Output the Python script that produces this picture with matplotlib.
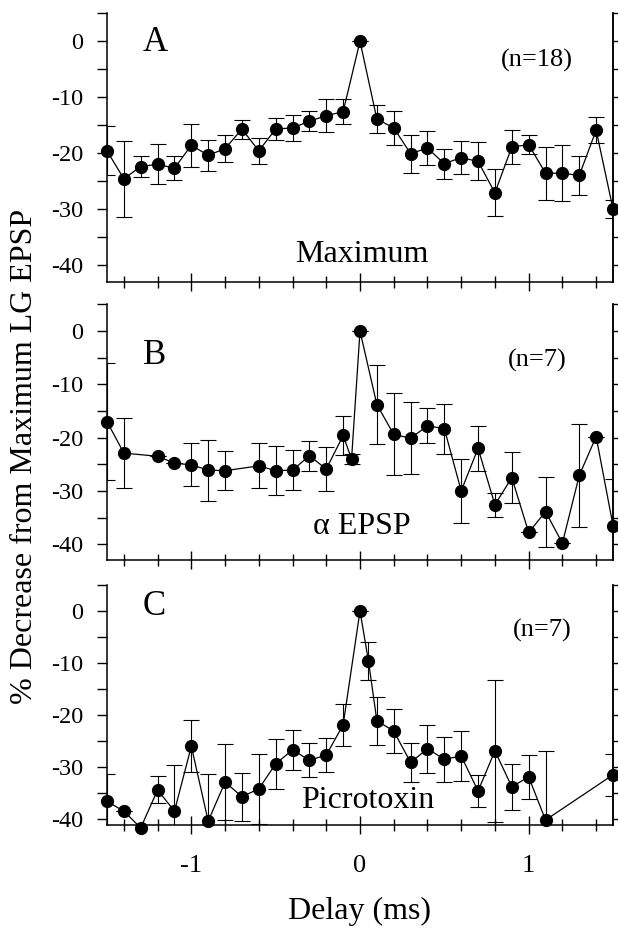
""" Decrease of the LG EPSP against delay, three conditions stacked. """

import matplotlib
matplotlib.use("Agg")
import matplotlib.pyplot as plt
from matplotlib.ticker import MultipleLocator

plt.rcParams["font.family"] = ["Liberation Serif", "DejaVu Serif"]
plt.rcParams["axes.unicode_minus"] = False

# Panel A - Maximum (n=18)
delay_a = [-1.5, -1.4, -1.3, -1.2, -1.1, -1.0, -0.9, -0.8, -0.7, -0.6, -0.5,
           -0.4, -0.3, -0.2, -0.1, 0.0, 0.1, 0.2, 0.3, 0.4, 0.5, 0.6, 0.7,
           0.8, 0.9, 1.0, 1.1, 1.2, 1.3, 1.4, 1.5]
decrease_a = [-19.6, -24.6, -22.4, -22.0, -22.7, -18.6, -20.4, -19.2, -15.7,
              -19.6, -15.7, -15.5, -14.3, -13.3, -12.6, 0.0, -13.9, -15.5,
              -20.1, -19.1, -21.9, -20.8, -21.5, -27.1, -18.9, -18.5, -23.6,
              -23.6, -24.0, -15.9, -30.0]
error_a = [4.4, 6.8, 1.9, 3.6, 2.2, 3.8, 2.8, 2.4, 1.7, 2.3, 1.9, 2.3, 1.8,
           2.9, 2.2, 0.0, 2.5, 3.0, 3.4, 3.0, 2.7, 2.9, 3.4, 4.2, 3.1, 1.7,
           4.7, 5.0, 3.5, 2.3, 1.6]

# Panel B - alpha EPSP (n=7)
delay_b = [-1.5, -1.4, -1.2, -1.1, -1.0, -0.9, -0.8, -0.6, -0.5, -0.4, -0.3,
           -0.2, -0.1, -0.05, 0.0, 0.1, 0.2, 0.3, 0.4, 0.5, 0.6, 0.7, 0.8,
           0.9, 1.0, 1.1, 1.2, 1.3, 1.4, 1.5]
decrease_b = [-17.0, -22.9, -23.5, -24.8, -25.1, -26.1, -26.2, -25.3, -26.2,
              -26.1, -23.4, -25.9, -19.6, -24.0, 0.0, -13.8, -19.4, -20.1,
              -17.8, -18.3, -30.0, -22.0, -32.6, -27.5, -37.8, -33.9, -39.8,
              -27.1, -19.8, -36.5]
error_b = [11.0, 6.6, 0.0, 0.0, 4.0, 5.7, 3.7, 4.2, 4.6, 3.7, 2.8, 4.2, 3.7,
           1.0, 0.0, 7.4, 7.7, 6.7, 3.3, 4.7, 6.0, 4.2, 2.2, 4.8, 0.0, 6.6,
           0.0, 9.7, 0.0, 8.8]

# Panel C - Picrotoxin (n=7)
delay_c = [-1.5, -1.4, -1.3, -1.2, -1.1, -1.0, -0.9, -0.8, -0.7, -0.6, -0.5,
           -0.4, -0.3, -0.2, -0.1, 0.0, 0.05, 0.1, 0.2, 0.3, 0.4, 0.5, 0.6,
           0.7, 0.8, 0.9, 1.0, 1.1, 1.5]
decrease_c = [-36.6, -38.5, -41.7, -34.4, -38.5, -26.0, -40.4, -32.9, -35.7,
              -34.2, -29.4, -26.7, -28.7, -27.7, -21.9, 0.0, -9.6, -21.1,
              -23.1, -29.1, -26.5, -28.5, -27.9, -34.6, -26.9, -33.8, -31.9,
              -40.2, -31.5]
error_c = [5.2, 0.0, 0.0, 2.6, 8.8, 5.0, 9.1, 7.3, 4.6, 6.7, 4.8, 3.8, 3.3,
           3.2, 4.0, 0.0, 3.7, 4.6, 4.3, 3.8, 4.6, 4.3, 4.8, 3.1, 13.7, 4.4,
           4.3, 13.3, 4.0]

panels = [
    # letter, n label, condition, data, ylim bottom, text positions
    ("A", "(n=18)", "Maximum", delay_a, decrease_a, error_a, -43.0,
     (-1.215, -1.7), (1.05, -4.6), (0.01, -39.5)),
    ("B", "(n=7)", "\u03b1 EPSP", delay_b, decrease_b, error_b, -43.0,
     (-1.22, -6.2), (1.05, -6.7), (0.01, -38.0)),
    ("C", "(n=7)", "Picrotoxin", delay_c, decrease_c, error_c, -41.15,
     (-1.22, -0.8), (1.08, -4.9), (0.045, -37.9)),
]

# axes boxes in pixels (left, top, right, bottom) of a 618x936 figure
boxes = [(107, 13.3, 613, 281.7), (107, 304.4, 613, 560.2),
         (107, 585.0, 613, 825.0)]

W, H = 618, 936
fig = plt.figure(figsize=(W / 100, H / 100), dpi=100)

for i, (panel, box) in enumerate(zip(panels, boxes)):
    letter, n_text, cond, x, y, err, ybottom, pos_letter, pos_n, pos_cond = panel
    left, top, right, bottom = box
    ax = fig.add_axes([left / W, 1 - bottom / H, (right - left) / W, (bottom - top) / H])

    # error bars clipped to the box, dots drawn on top
    ax.errorbar(x, y, yerr=err, fmt="none", ecolor="black", elinewidth=0.8,
                capsize=5.5, capthick=0.8, zorder=2)
    ax.plot(x, y, color="black", lw=0.9, marker="o", markersize=8.5,
            clip_on=False, zorder=3)

    ax.set_xlim(-1.5, 1.5)
    ax.set_ylim(ybottom, 5)

    # Spines
    ax.spines["top"].set_visible(False)
    for side in ["left", "right", "bottom"]:
        ax.spines[side].set_linewidth(1.1)

    # y axis: labelled every 10, ticks every 5, both sides
    ax.set_yticks([0, -10, -20, -30, -40])
    ax.yaxis.set_minor_locator(MultipleLocator(5))
    ax.tick_params(axis="y", which="both", direction="out", length=7,
                   width=1.0, labelsize=17.5, pad=10)
    twin = ax.twinx()
    twin.set_ylim(ax.get_ylim())
    twin.set_yticks([0, -10, -20, -30, -40])
    twin.yaxis.set_minor_locator(MultipleLocator(5))
    twin.tick_params(axis="y", which="both", direction="out", length=5,
                     width=1.0, labelright=False)
    for side in ["top", "left", "bottom"]:
        twin.spines[side].set_visible(False)
    twin.spines["right"].set_linewidth(1.1)

    # x axis: major at whole ms, minor every 0.2 ms, crossing the axis
    ax.set_xticks([-1, 0, 1])
    ax.xaxis.set_minor_locator(MultipleLocator(0.2))
    ax.tick_params(axis="x", which="major", direction="inout", length=13,
                   width=1.0, labelsize=19, pad=15)
    ax.tick_params(axis="x", which="minor", direction="inout", length=8,
                   width=1.0)
    if i < 2:
        ax.tick_params(axis="x", labelbottom=False)

    # Panel annotations
    ax.text(*pos_letter, letter, fontsize=25, ha="center", va="baseline")
    ax.text(*pos_n, n_text, fontsize=19, ha="center", va="baseline")
    ax.text(*pos_cond, cond, fontsize=23, ha="center", va="baseline")

fig.text(360 / W, 1 - 919 / H, "Delay (ms)", fontsize=23, ha="center",
         va="baseline")
fig.text(25 / W, 1 - 456 / H, "% Decrease from Maximum LG EPSP",
         fontsize=23, rotation=90, ha="center", va="center")

fig.savefig("out.png", dpi=100)
